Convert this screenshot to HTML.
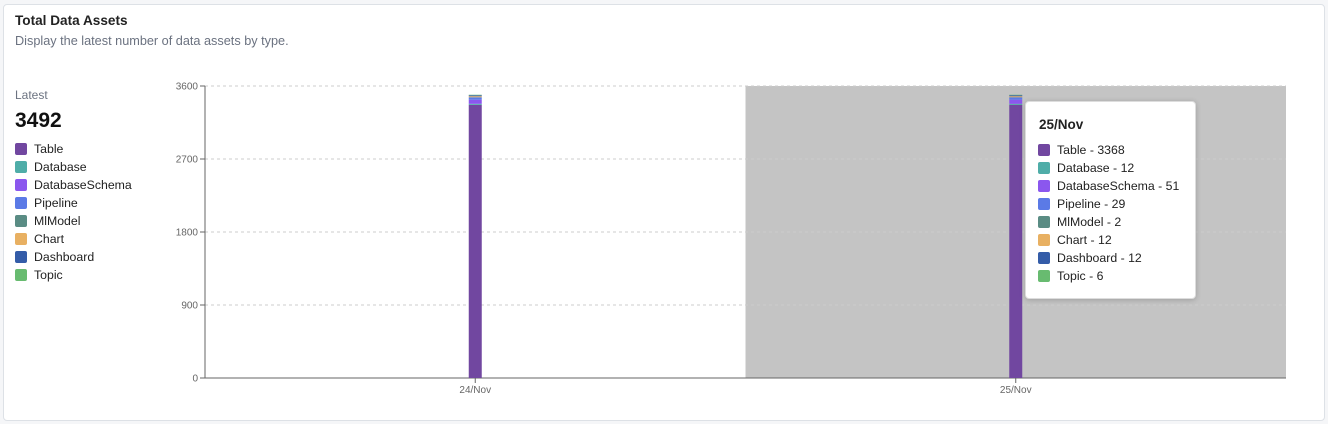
<!DOCTYPE html>
<html><head><meta charset="utf-8">
<style>
body{margin:0;width:1328px;height:424px;background:#f5f6f8;font-family:"Liberation Sans",sans-serif;overflow:hidden}
.card{position:absolute;left:3px;top:4px;width:1320px;height:415px;background:#fff;border:1px solid #dde1e6;border-radius:4px}
.title{position:absolute;left:11px;top:8px;font-size:13.6px;font-weight:bold;color:#222}
.sub{position:absolute;left:11px;top:29px;font-size:12.7px;color:#6b7280}
.latest{position:absolute;left:11px;top:83px;font-size:12px;color:#6b7280}
.big{position:absolute;left:11px;top:104px;font-size:21px;font-weight:bold;color:#111}
.leg{position:absolute;left:11px;top:135px;font-size:12.3px;color:#222}
.leg div{height:18px;display:flex;align-items:center}
.sw{width:12px;height:12px;border-radius:2px;margin-right:7px;display:inline-block}
.tip{position:absolute;left:1025px;top:101px;width:169px;height:196px;background:#fff;border:1px solid #ddd;border-radius:4px;box-shadow:0 1px 6px rgba(0,0,0,.2)}
.tip h4{margin:0;position:absolute;left:13px;top:15px;font-size:13.5px;font-weight:bold;color:#222}
.tip .rows{position:absolute;left:12px;top:39px;font-size:12.3px;color:#222}
.tip .rows div{height:18px;display:flex;align-items:center}
</style></head><body>
<div class="card">
<div class="title">Total Data Assets</div>
<div class="sub">Display the latest number of data assets by type.</div>
<div class="latest">Latest</div>
<div class="big">3492</div>
<div class="leg" id="leg"></div>
</div>
<svg id="chart" width="1328" height="424" style="position:absolute;left:0;top:0"></svg>
<div class="tip"><h4>25/Nov</h4><div class="rows" id="tiprows"></div></div>
<script>
const categories=["24/Nov","25/Nov"];
const seriesNames=["Table","Database","DatabaseSchema","Pipeline","MlModel","Chart","Dashboard","Topic"];
const seriesColors=["#7147a0","#4fada8","#8b57ee","#5b7ae6","#5a8c84","#e8b062","#345ca8","#68bb70"];
const values24=[3368,12,51,29,2,12,12,6];
const values25=[3368,12,51,29,2,12,12,6];
const yTicks=[0,900,1800,2700,3600];
const allValues=[values24,values25];
const NS="http://www.w3.org/2000/svg";
const svg=document.getElementById('chart');
const x0=205,x1=1286,yTop=86,yBot=378,yMax=3600;
const bw=(x1-x0)/categories.length;
const y=v=>yBot-v/yMax*(yBot-yTop);
const xc=i=>x0+bw*(i+0.5);
function mk(t,a){const e=document.createElementNS(NS,t);for(const k in a)e.setAttribute(k,a[k]);svg.appendChild(e);return e;}
let hov=mk('rect',{x:x0+bw,y:yTop,width:bw,height:yBot-yTop,fill:'#c4c4c4'});


yTicks.forEach(t=>{
 if(t>0){let g=mk('line',{x1:x0,x2:x1,y1:y(t),y2:y(t),stroke:'#ccc','stroke-dasharray':'3 3'});
 
 }
 mk('line',{x1:x0-5,x2:x0,y1:y(t),y2:y(t),stroke:'#666'});
 let l=mk('text',{x:x0-7,y:y(t)+3.5,'text-anchor':'end','font-size':10,fill:'#666'});l.textContent=t;
 
 
});
mk('line',{x1:x0,x2:x0,y1:yTop,y2:yBot,stroke:'#666'});
mk('line',{x1:x0,x2:x1,y1:yBot,y2:yBot,stroke:'#666'});
categories.forEach((c,i)=>{
 let cum=0;
 allValues[i].forEach((v,s)=>{
  let r=mk('rect',{x:xc(i)-6.5,y:y(cum+v),width:13,height:y(cum)-y(cum+v),fill:seriesColors[s]});
  
  
  cum+=v;
 });
 mk('line',{x1:xc(i),x2:xc(i),y1:yBot,y2:yBot+5,stroke:'#666'});
 let t=mk('text',{x:xc(i),y:yBot+15,'text-anchor':'middle','font-size':10,fill:'#666'});t.textContent=c;
 
 
});
const leg=document.getElementById('leg'),tr=document.getElementById('tiprows');
seriesNames.forEach((n,s)=>{
 let d=document.createElement('div');d.innerHTML='<span class="sw" style="background:'+seriesColors[s]+'"></span>'+n;
 
 
 leg.appendChild(d);
 let e=document.createElement('div');e.innerHTML='<span class="sw" style="background:'+seriesColors[s]+'"></span>'+n+' - '+values25[s];
 
 
 tr.appendChild(e);
});
</script>
</body></html>
